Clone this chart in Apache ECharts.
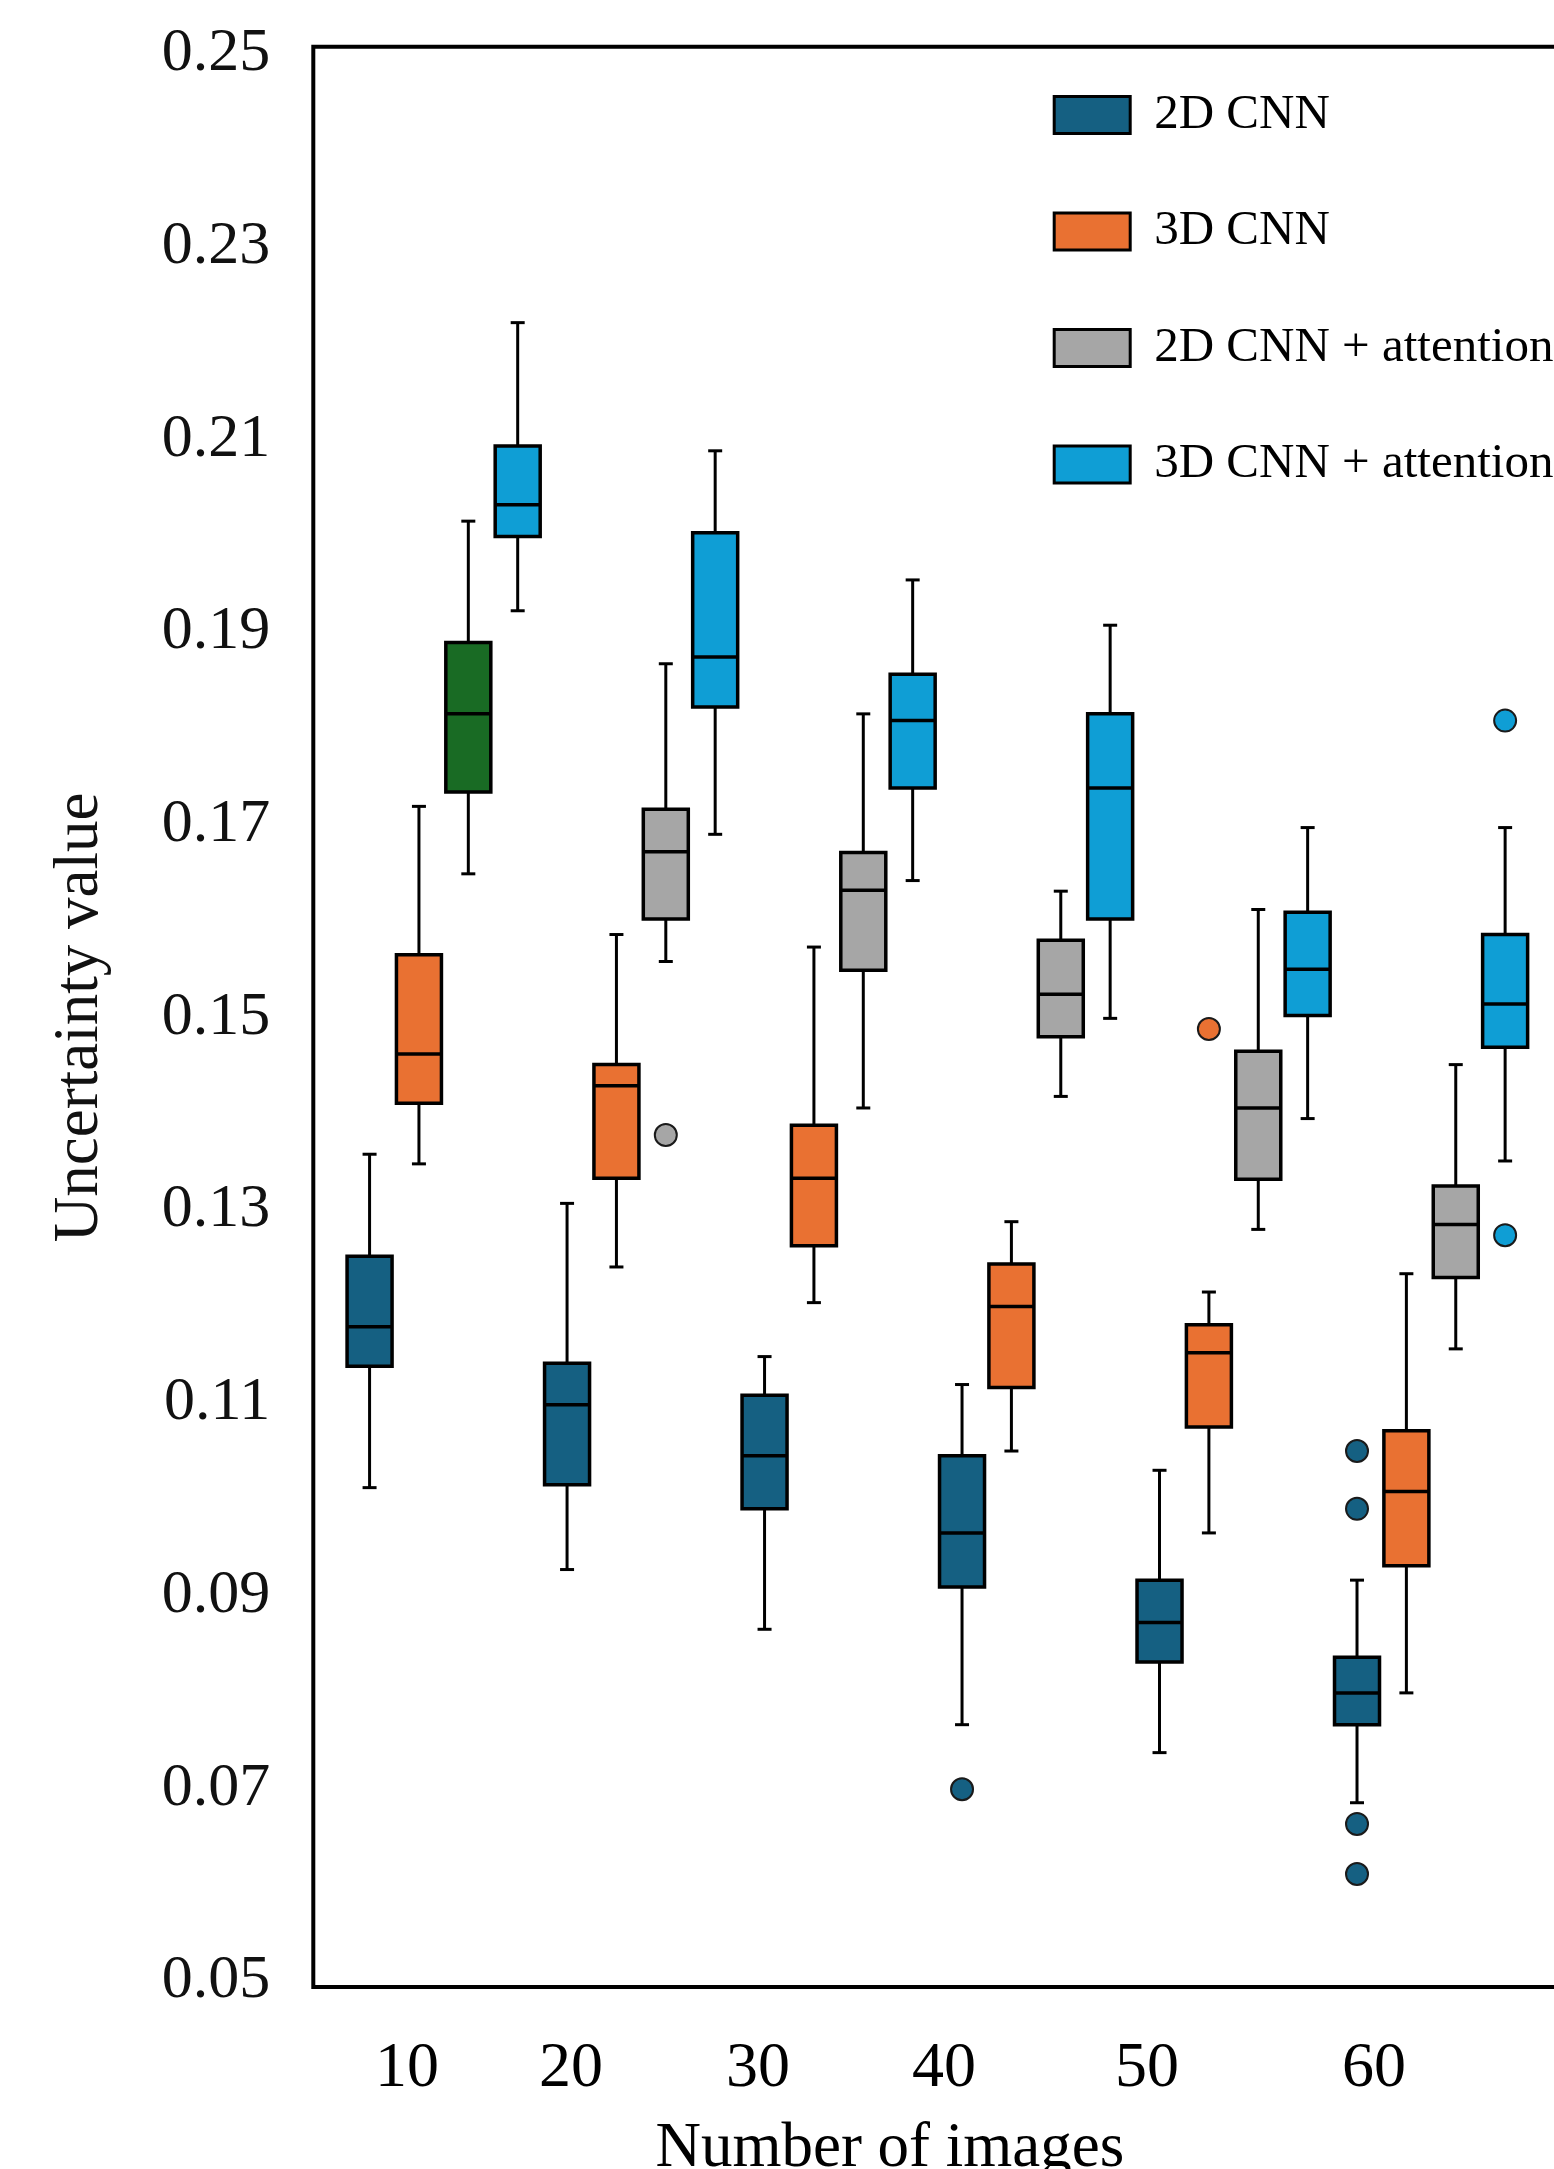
<!DOCTYPE html>
<html>
<head>
<meta charset="utf-8">
<script src="https://cdn.jsdelivr.net/npm/echarts@6/dist/echarts.min.js"></script>
<style>
html,body{margin:0;padding:0;background:#fff;}
#chart{width:1554px;height:2169px;}
</style>
</head>
<body>
<div id="chart"></div>
<script>
// ---------------- data ----------------
const categories = ['10', '20', '30', '40', '50', '60'];
const seriesNames = ['2D CNN', '3D CNN', '2D CNN + attention', '3D CNN + attention'];

// each row: [lower whisker, Q1, median, Q3, upper whisker] for one category
const cnn2d = [
  [0.1012, 0.1138, 0.1179, 0.1252, 0.1358],
  [0.0927, 0.1015, 0.1098, 0.1141, 0.1307],
  [0.0865, 0.0990, 0.1045, 0.1108, 0.1148],
  [0.0766, 0.0909, 0.0965, 0.1045, 0.1119],
  [0.0737, 0.0831, 0.0872, 0.0916, 0.1030],
  [0.0685, 0.0766, 0.0799, 0.0836, 0.0916]
];
const cnn3d = [
  [0.1348, 0.1411, 0.1462, 0.1565, 0.1719],
  [0.1241, 0.1333, 0.1429, 0.1451, 0.1586],
  [0.1204, 0.1263, 0.1333, 0.1388, 0.1573],
  [0.1050, 0.1116, 0.1200, 0.1244, 0.1288],
  [0.0965, 0.1075, 0.1152, 0.1181, 0.1215],
  [0.0799, 0.0931, 0.1008, 0.1071, 0.1234]
];
const cnn2dAtt = [
  [0.1649, 0.1734, 0.1815, 0.1889, 0.2015],
  [0.1558, 0.1602, 0.1672, 0.1716, 0.1867],
  [0.1406, 0.1549, 0.1632, 0.1671, 0.1815],
  [0.1418, 0.1480, 0.1524, 0.1580, 0.1631],
  [0.1280, 0.1332, 0.1406, 0.1465, 0.1612],
  [0.1156, 0.1230, 0.1285, 0.1325, 0.1451]
];
const cnn3dAtt = [
  [0.1922, 0.1999, 0.2032, 0.2093, 0.2221],
  [0.1690, 0.1822, 0.1874, 0.2003, 0.2088],
  [0.1642, 0.1738, 0.1808, 0.1856, 0.1954],
  [0.1499, 0.1602, 0.1738, 0.1815, 0.1907],
  [0.1395, 0.1502, 0.1550, 0.1609, 0.1697],
  [0.1351, 0.1469, 0.1514, 0.1586, 0.1697]
];
// outliers: [category index, value]
const out2d = [[3, 0.0699], [5, 0.1050], [5, 0.0990], [5, 0.0663], [5, 0.0611]];
const out3d = [[4, 0.1488]];
const out2dAtt = [[1, 0.1378]];
const out3dAtt = [[5, 0.1808], [5, 0.1274]];

// ---------------- style / layout ----------------
const COLORS = ['#156082', '#E97132', '#A6A6A6', '#0F9ED5'];
const HIGHLIGHT = { series: 2, index: 0, color: '#196B24' }; // the green box
const LABEL_POS = [0.758, 4.079, 7.867, 11.635, 15.746, 20.344]; // where the x tick labels sit
const FONT = '"Liberation Serif", "Times New Roman", serif';
const BOX_W = 45;
const CAP_W = 14;

function renderBox(params, api) {
  const x = api.value(0);
  const lo = api.coord([x, api.value(1)]);
  const q1 = api.coord([x, api.value(2)]);
  const md = api.coord([x, api.value(3)]);
  const q3 = api.coord([x, api.value(4)]);
  const hi = api.coord([x, api.value(5)]);
  const cx = lo[0];
  const fill = api.visual('color');
  const ln = (x1, y1, x2, y2, w) => ({
    type: 'line', shape: { x1, y1, x2, y2 },
    style: { stroke: '#000', lineWidth: w }
  });
  return {
    type: 'group',
    children: [
      ln(cx, hi[1], cx, q3[1], 3),
      ln(cx, q1[1], cx, lo[1], 3),
      ln(cx - CAP_W / 2, hi[1], cx + CAP_W / 2, hi[1], 3),
      ln(cx - CAP_W / 2, lo[1], cx + CAP_W / 2, lo[1], 3),
      {
        type: 'rect',
        shape: { x: cx - BOX_W / 2, y: q3[1], width: BOX_W, height: q1[1] - q3[1] },
        style: { fill: fill, stroke: '#000', lineWidth: 3.5 }
      },
      ln(cx - BOX_W / 2, md[1], cx + BOX_W / 2, md[1], 3.5)
    ]
  };
}

const boxSets = [cnn2d, cnn3d, cnn2dAtt, cnn3dAtt];
const outSets = [out2d, out3d, out2dAtt, out3dAtt];
const series = [];
boxSets.forEach((set, m) => {
  series.push({
    name: seriesNames[m],
    type: 'custom',
    renderItem: renderBox,
    itemStyle: { color: COLORS[m] },
    encode: { x: 0, y: [1, 2, 3, 4, 5] },
    data: set.map((b, g) => {
      const item = { value: [4 * g + m].concat(b) };
      if (HIGHLIGHT.series === m && HIGHLIGHT.index === g) {
        item.itemStyle = { color: HIGHLIGHT.color };
      }
      return item;
    }),
    z: 2
  });
});
outSets.forEach((set, m) => {
  series.push({
    name: seriesNames[m] + ' outliers',
    type: 'scatter',
    symbol: 'circle',
    symbolSize: 22,
    itemStyle: { color: COLORS[m], borderColor: '#1a1a1a', borderWidth: 2, opacity: 1 },
    data: set.map(([g, v]) => [4 * g + m, v]),
    z: 3
  });
});

const chart = echarts.init(document.getElementById('chart'), null, { renderer: 'canvas' });
chart.setOption({
  animation: false,
  backgroundColor: '#fff',
  grid: { left: 320.2, right: -0.5, top: 53.8, bottom: 188, containLabel: false, outerBoundsMode: 'none' },
  legend: {
    data: seriesNames,
    orient: 'vertical',
    left: 1052.7,
    top: 90.5,
    padding: 0,
    icon: 'rect',
    itemWidth: 76,
    itemHeight: 37,
    itemGap: 67.5,
    itemStyle: { borderColor: '#000', borderWidth: 3 },
    textStyle: { fontFamily: FONT, fontSize: 49, color: '#000', lineHeight: 48, padding: [0, 0, 0, 19] },
    selectedMode: false
  },
  xAxis: {
    type: 'value',
    min: -1,
    max: 24,
    name: 'Number of images',
    nameLocation: 'middle',
    nameGap: 137,
    nameTextStyle: { fontFamily: FONT, fontSize: 63, color: '#000', padding: [0, 95, 0, 0] },
    axisLine: { show: false },
    axisTick: { show: false },
    splitLine: { show: false },
    axisLabel: {
      customValues: LABEL_POS,
      margin: 56,
      fontFamily: FONT,
      fontSize: 64,
      color: '#000',
      formatter: function (val) {
        const i = LABEL_POS.findIndex(p => Math.abs(p - val) < 1e-6);
        return i >= 0 ? categories[i] : '';
      }
    }
  },
  yAxis: {
    type: 'value',
    min: 0.05,
    max: 0.25,
    interval: 0.02,
    name: 'Uncertainty value',
    nameLocation: 'middle',
    nameGap: 208,
    nameTextStyle: { fontFamily: FONT, fontSize: 63, color: '#111' },
    axisLine: { show: false, onZero: false },
    axisTick: { show: false },
    splitLine: { show: false },
    axisLabel: {
      margin: 50,
      fontFamily: FONT,
      fontSize: 62,
      color: '#111',
      padding: [12, 0, 0, 0],
      formatter: v => v.toFixed(2)
    }
  },
  graphic: [{
    type: 'rect',
    silent: true,
    z: 100,
    shape: { x: 313.3, y: 46.7, width: 1400, height: 1940.3 },
    style: { fill: 'none', stroke: '#000', lineWidth: 4 }
  }],
  series: series
});
</script>
</body>
</html>
